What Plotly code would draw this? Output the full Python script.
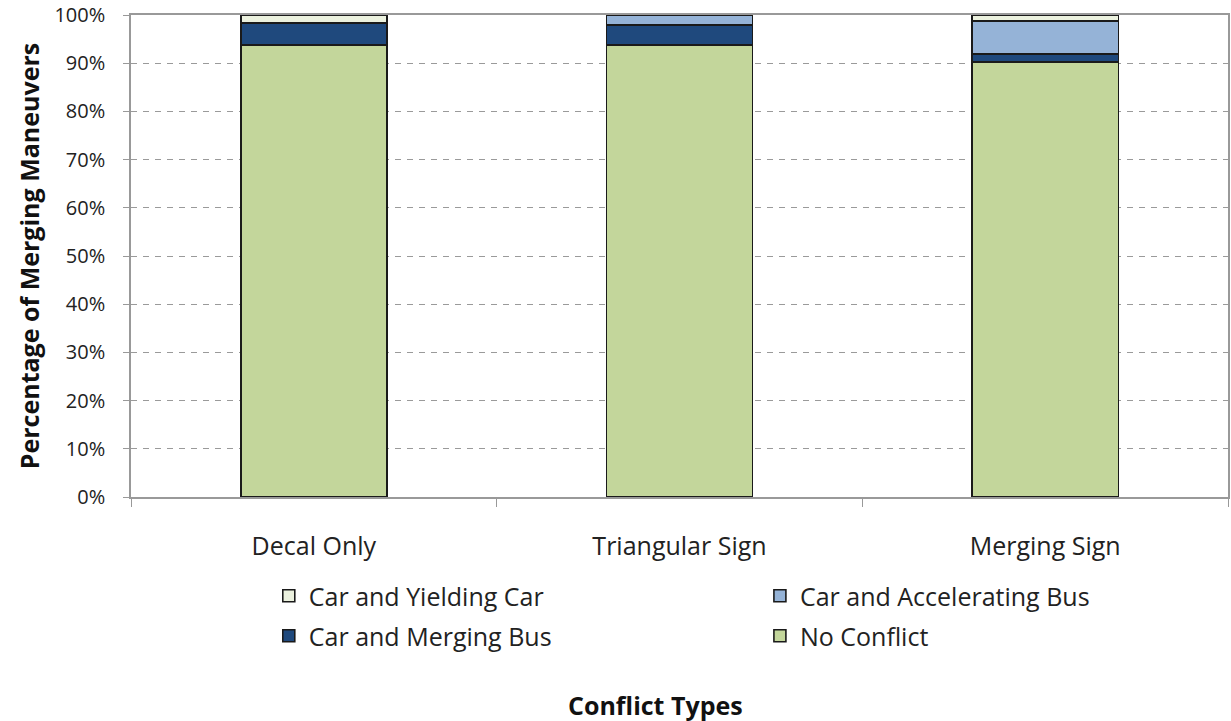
import plotly.graph_objects as go

# Sign treatments compared
treatments = ["Decal Only", "Triangular Sign", "Merging Sign"]

# Share of merging maneuvers (%) by conflict type
no_conflict = [93.8, 93.8, 90.3]
car_merging_bus = [4.5, 4.1, 1.6]
car_accelerating_bus = [0.0, 2.1, 6.9]
car_yielding_car = [1.7, 0.0, 1.2]

y_ticks = [0, 10, 20, 30, 40, 50, 60, 70, 80, 90, 100]
y_tick_text = [f"{v}%" for v in y_ticks]

# name, values, fill colour, legend slot
series = [
    ("No Conflict", no_conflict, "#C3D69B", "legend4"),
    ("Car and Merging Bus", car_merging_bus, "#1F497D", "legend3"),
    ("Car and Accelerating Bus", car_accelerating_bus, "#95B3D7", "legend2"),
    ("Car and Yielding Car", car_yielding_car, "#EBF1DE", "legend"),
]

FONT = "Open Sans, sans-serif"
TEXT = "#222222"

fig = go.Figure()
for name, vals, color, leg in series:
    fig.add_trace(go.Bar(
        x=treatments, y=vals, name=name,
        marker=dict(color=color, line=dict(color="#1a1a1a", width=1.6)),
        width=0.4, legend=leg,
    ))

# Two-by-two legend grid below the category labels
def legend_box(x, y):
    return dict(
        x=x, y=y, xanchor="left", yanchor="middle",
        bgcolor="rgba(0,0,0,0)", borderwidth=0,
        font=dict(size=25, family=FONT, color=TEXT),
        itemwidth=30,
    )

fig.update_layout(
    barmode="stack",
    width=1231, height=721,
    margin=dict(l=131, r=1, t=14, b=224),
    paper_bgcolor="white", plot_bgcolor="white",
    font=dict(family=FONT, color=TEXT),
    showlegend=True,
    legend=legend_box(0.1256, -0.2054),
    legend2=legend_box(0.5733, -0.2054),
    legend3=legend_box(0.1256, -0.2884),
    legend4=legend_box(0.5733, -0.2884),
    annotations=[dict(
        text="<b>Conflict Types</b>", xref="paper", yref="paper",
        x=0.478, y=-0.4315, xanchor="center", yanchor="middle",
        showarrow=False, font=dict(size=25, family=FONT, color="#111111"),
    )],
)

fig.update_xaxes(
    showline=True, linecolor="#999999", linewidth=1.5,
    ticks="outside", tickson="boundaries", ticklen=8, tickcolor="#999999",
    tickfont=dict(size=25, family=FONT, color=TEXT),
    ticklabelstandoff=26, mirror=True,
)
fig.update_yaxes(
    range=[0, 100], tickvals=y_ticks, ticktext=y_tick_text,
    showline=True, linecolor="#999999", linewidth=1.5, mirror=True,
    ticks="outside", ticklen=6, tickcolor="#999999",
    tickfont=dict(size=20, family=FONT, color=TEXT),
    ticklabelstandoff=14,
    showgrid=True, gridcolor="#9a9a9a", gridwidth=1.2, griddash="6px,6px",
    title=dict(text="<b>Percentage of Merging Maneuvers</b>",
               font=dict(size=25, family=FONT, color="#111111"), standoff=8),
)

fig.write_html("out.html")
